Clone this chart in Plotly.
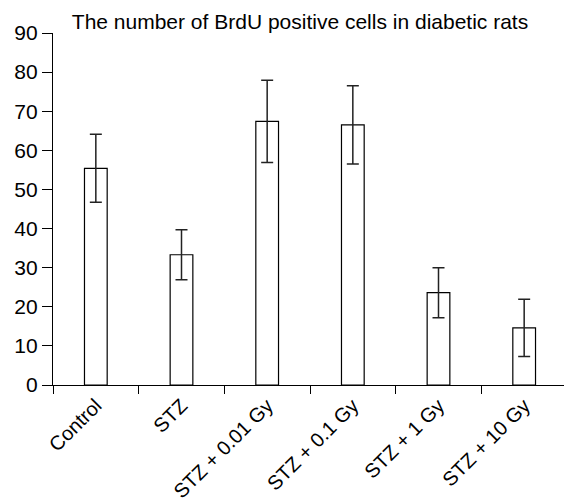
import plotly.graph_objects as go

categories = ["Control", "STZ", "STZ + 0.01 Gy", "STZ + 0.1 Gy", "STZ + 1 Gy", "STZ + 10 Gy"]
means = [55.4, 33.3, 67.4, 66.5, 23.6, 14.6]
errors = [8.7, 6.4, 10.5, 10.0, 6.4, 7.3]
y_ticks = [0, 10, 20, 30, 40, 50, 60, 70, 80, 90]

fig = go.Figure()
fig.add_trace(go.Bar(
    x=categories, y=means, width=0.265,
    marker=dict(color="white", line=dict(color="black", width=1.2)),
    error_y=dict(type="data", array=errors, visible=True, color="#222222", thickness=1.5, width=6),
    showlegend=False,
))

font = "Liberation Sans, Arial, sans-serif"
W, H = 564, 494
fig.update_layout(
    width=W, height=H,
    margin=dict(l=45, r=5, t=25, b=117, autoexpand=False),
    plot_bgcolor="white", paper_bgcolor="white",
    title=dict(text="The number of BrdU positive cells in diabetic rats",
               x=292/W, xref="container", xanchor="center",
               y=1-14/H, yref="container", yanchor="middle",
               font=dict(family=font, size=21, color="black")),
    xaxis=dict(showline=True, linecolor="black", linewidth=1.2, automargin=False,
               ticks="outside", tickson="boundaries", ticklen=8, tickcolor="black", tickwidth=1.2,
               tickangle=-45, tickfont=dict(family=font, size=20, color="black"),
               showgrid=False, zeroline=False),
    yaxis=dict(range=[0, 90], tickvals=y_ticks, showline=True, linecolor="black", linewidth=1.2,
               automargin=False,
               ticks="outside", ticklen=10, tickcolor="black", tickwidth=1.2,
               tickfont=dict(family=font, size=21, color="black"),
               showgrid=False, zeroline=False),
)

fig.write_html("out.html")
